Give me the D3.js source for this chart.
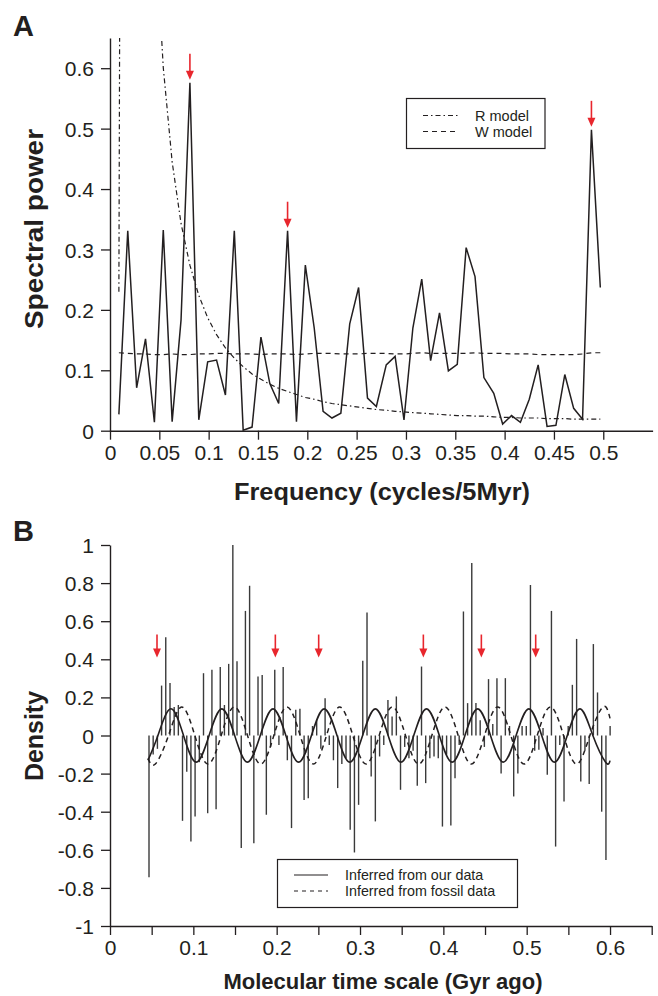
<!DOCTYPE html>
<html><head><meta charset="utf-8">
<script src="https://cdn.jsdelivr.net/npm/d3@7"></script>
<style>
body{margin:0;background:#fff;}
text{font-family:"Liberation Sans",Arial,Helvetica,sans-serif;fill:#231f20;}
</style>
</head><body>
<svg id="chart" width="658" height="996"></svg>
<script>
// ---------- Panel A data ----------
const freqA = [0.009,0.018,0.027,0.036,0.045,0.054,0.063,0.072,0.081,0.090,0.099,0.108,0.117,0.126,0.135,0.144,0.153,0.162,0.171,0.180,0.189,0.198,0.207,0.216,0.225,0.234,0.243,0.252,0.261,0.270,0.280,0.289,0.298,0.307,0.316,0.325,0.334,0.343,0.352,0.361,0.370,0.379,0.389,0.398,0.407,0.416,0.425,0.434,0.443,0.452,0.461,0.470,0.479,0.488,0.497];
const powerA = [0.027,0.331,0.071,0.152,0.014,0.332,0.015,0.183,0.576,0.018,0.114,0.117,0.059,0.331,0.001,0.006,0.155,0.078,0.045,0.331,0.015,0.274,0.170,0.032,0.021,0.029,0.177,0.237,0.054,0.040,0.109,0.123,0.018,0.170,0.251,0.116,0.195,0.099,0.110,0.303,0.255,0.088,0.062,0.011,0.025,0.014,0.052,0.109,0.007,0.009,0.093,0.037,0.019,0.498,0.237];
const rModelA = [0.23,5.32,2.37,1.339,0.861,0.601,0.445,0.343,0.274,0.224,0.187,0.159,0.137,0.120,0.106,0.094,0.085,0.077,0.070,0.065,0.060,0.055,0.052,0.048,0.045,0.043,0.041,0.039,0.037,0.035,0.034,0.032,0.031,0.030,0.029,0.028,0.027,0.026,0.025,0.025,0.024,0.024,0.023,0.022,0.022,0.021,0.021,0.021,0.020,0.020,0.020,0.019,0.019,0.019,0.019];
const wModelA = [0.129,0.128,0.127,0.127,0.126,0.126,0.127,0.126,0.126,0.127,0.127,0.128,0.128,0.127,0.127,0.127,0.126,0.127,0.127,0.127,0.126,0.127,0.128,0.128,0.128,0.127,0.127,0.127,0.128,0.128,0.128,0.127,0.127,0.128,0.129,0.128,0.128,0.128,0.128,0.128,0.129,0.128,0.128,0.128,0.127,0.127,0.127,0.126,0.126,0.126,0.126,0.126,0.127,0.129,0.129];
const arrowFreqA = [0.081,0.180,0.488];
const xTicksA = [0,0.05,0.1,0.15,0.2,0.25,0.3,0.35,0.4,0.45,0.5];
const yTicksA = [0,0.1,0.2,0.3,0.4,0.5,0.6];
const legendA = ["R model","W model"];

// ---------- Panel B data ----------
const timeB = [0.0468,0.0518,0.0569,0.0619,0.0669,0.0720,0.0770,0.0820,0.0870,0.0921,0.0971,0.1021,0.1072,0.1122,0.1172,0.1223,0.1273,0.1323,0.1373,0.1424,0.1474,0.1524,0.1575,0.1625,0.1675,0.1726,0.1776,0.1826,0.1876,0.1927,0.1977,0.2027,0.2078,0.2128,0.2178,0.2229,0.2279,0.2329,0.2379,0.2430,0.2480,0.2530,0.2581,0.2631,0.2681,0.2732,0.2782,0.2832,0.2882,0.2933,0.2983,0.3033,0.3084,0.3134,0.3184,0.3235,0.3285,0.3335,0.3385,0.3436,0.3486,0.3536,0.3587,0.3637,0.3687,0.3738,0.3788,0.3838,0.3888,0.3939,0.3989,0.4039,0.4090,0.4140,0.4190,0.4241,0.4291,0.4341,0.4391,0.4442,0.4492,0.4542,0.4593,0.4643,0.4693,0.4744,0.4794,0.4844,0.4894,0.4945,0.4995,0.5045,0.5096,0.5146,0.5196,0.5247,0.5297,0.5347,0.5397,0.5448,0.5498,0.5548,0.5599,0.5649,0.5699,0.5750,0.5800,0.5850,0.5900,0.5951,0.6001];
const densityB = [-0.744,-0.10,-0.07,0.262,0.516,0.275,0.15,0.16,-0.448,-0.19,-0.556,-0.425,-0.14,0.327,-0.408,0.345,-0.387,0.359,0.16,0.376,1.0,0.39,-0.59,0.654,0.786,-0.565,0.31,0.318,-0.416,-0.06,0.345,-0.05,0.359,-0.13,-0.486,0.135,0.14,-0.338,-0.329,0.05,0.08,-0.07,0.196,-0.05,-0.13,-0.276,-0.15,-0.12,-0.495,-0.614,-0.364,0.392,0.646,-0.215,-0.451,-0.11,-0.05,0.187,0.10,0.205,-0.285,-0.06,-0.12,-0.08,-0.264,0.362,-0.25,-0.12,-0.11,-0.12,-0.478,-0.10,-0.472,-0.224,-0.05,0.651,0.17,0.905,0.17,0.08,-0.06,0.296,0.06,0.301,-0.2,0.301,0.05,-0.32,-0.2,0.05,0.05,0.79,-0.08,-0.075,0.04,-0.206,0.654,-0.583,-0.05,-0.346,0.05,0.266,0.507,-0.241,-0.08,-0.254,0.48,0.226,-0.4,-0.653,0.05];
const ourFitT = [0.0456,0.0575,0.0728,0.0882,0.1035,0.1189,0.1342,0.1496,0.1649,0.1803,0.1956,0.2110,0.2263,0.2417,0.2570,0.2724,0.2877,0.3031,0.3184,0.3338,0.3491,0.3645,0.3798,0.3952,0.4105,0.4259,0.4412,0.4566,0.4719,0.4873,0.5026,0.5180,0.5333,0.5487,0.5640,0.5794,0.5947,0.6000];
const ourFitV = [-0.13,0,0.14,0,-0.14,0,0.14,0,-0.14,0,0.14,0,-0.14,0,0.14,0,-0.14,0,0.14,0,-0.14,0,0.14,0,-0.14,0,0.14,0,-0.14,0,0.14,0,-0.14,0,0.14,0,-0.14,-0.132];
const fossilFitT = [0.0456,0.0544,0.0702,0.0860,0.1018,0.1176,0.1334,0.1492,0.1650,0.1808,0.1966,0.2124,0.2282,0.2440,0.2598,0.2756,0.2914,0.3072,0.3230,0.3388,0.3546,0.3704,0.3862,0.4020,0.4178,0.4336,0.4494,0.4652,0.4810,0.4968,0.5126,0.5284,0.5442,0.5600,0.5758,0.5916,0.6000];
const fossilFitV = [-0.12,-0.15,0,0.15,0,-0.15,0,0.15,0,-0.15,0,0.15,0,-0.15,0,0.15,0,-0.15,0,0.15,0,-0.15,0,0.15,0,-0.15,0,0.15,0,-0.15,0,0.15,0,-0.15,0,0.15,0.09];
const arrowTimeB = [0.0564,0.1984,0.2504,0.376,0.4456,0.5108];
const arrowDensB = [0.53,0.41]; // arrow top, arrow tip
const xTicksB = [0,0.05,0.1,0.15,0.2,0.25,0.3,0.35,0.4,0.45,0.5,0.55,0.6,0.65];
const yTicksB = [-1,-0.8,-0.6,-0.4,-0.2,0,0.2,0.4,0.6,0.8,1];
const legendB = ["Inferred from our data","Inferred from fossil data"];

// ---------- drawing ----------
const svg = d3.select("#chart");
const INK = "#231f20", RED = "#e8262d";

function fmt(d){ return String(+d.toFixed(2)); }

function arrow(g, x, yTop, yTip){
  g.append("line").attr("x1",x).attr("x2",x).attr("y1",yTop).attr("y2",yTip-8)
    .attr("stroke",RED).attr("stroke-width",1.6);
  g.append("path").attr("d",`M${x-4},${yTip-9}L${x+4},${yTip-9}L${x},${yTip}Z`).attr("fill",RED);
}

function styleAxis(g){
  g.selectAll("path.domain").attr("stroke",INK).attr("stroke-width",1.4);
  g.selectAll(".tick line").attr("stroke",INK).attr("stroke-width",1.3);
  g.selectAll(".tick text").style("font-family",'"Liberation Sans",Arial,sans-serif')
    .style("font-size","21px").attr("fill",INK);
}

// ===== Panel A =====
const xA = d3.scaleLinear().domain([0,0.55]).range([110,652.6]);
const yA = d3.scaleLinear().domain([0,0.65]).range([430.7,38]);

svg.append("defs").append("clipPath").attr("id","clipA")
  .append("rect").attr("x",108).attr("y",38).attr("width",548).attr("height",395);

const gxA = svg.append("g").attr("transform",`translate(0,${yA(0)})`)
  .call(d3.axisBottom(xA).tickValues(xTicksA).tickSize(9).tickSizeOuter(0).tickPadding(5).tickFormat(fmt));
styleAxis(gxA);
const gyA = svg.append("g").attr("transform",`translate(${xA(0)},0)`)
  .call(d3.axisLeft(yA).tickValues(yTicksA).tickSize(9).tickSizeOuter(0).tickPadding(7).tickFormat(fmt));
styleAxis(gyA);
gyA.selectAll(".tick text").attr("dy","0.36em");

const plotA = svg.append("g").attr("clip-path","url(#clipA)");
const idxA = d3.range(freqA.length);
plotA.append("path").datum(idxA)
  .attr("d", d3.line().x(i=>xA(freqA[i])).y(i=>yA(rModelA[i])))
  .attr("fill","none").attr("stroke",INK).attr("stroke-width",1.2).attr("stroke-dasharray","5,3,1.5,3");
plotA.append("path").datum(idxA)
  .attr("d", d3.line().x(i=>xA(freqA[i])).y(i=>yA(wModelA[i])))
  .attr("fill","none").attr("stroke",INK).attr("stroke-width",1.2).attr("stroke-dasharray","5,4");
plotA.append("path").datum(idxA)
  .attr("d", d3.line().x(i=>xA(freqA[i])).y(i=>yA(powerA[i])))
  .attr("fill","none").attr("stroke",INK).attr("stroke-width",1.5).attr("stroke-linejoin","miter");

const arrA = svg.append("g");
arrowFreqA.forEach(f=>{
  const i = d3.minIndex(freqA, v=>Math.abs(v-f));
  const tip = yA(powerA[i]) - 3;
  arrow(arrA, xA(freqA[i]), tip-26, tip);
});

// legend A
const lgA = svg.append("g");
lgA.append("rect").attr("x",406.5).attr("y",98.5).attr("width",138.5).attr("height",50)
  .attr("fill","#fff").attr("stroke",INK).attr("stroke-width",1.2);
lgA.append("line").attr("x1",423).attr("x2",458).attr("y1",115.5).attr("y2",115.5)
  .attr("stroke",INK).attr("stroke-width",1.1).attr("stroke-dasharray","5,3,1.5,3");
lgA.append("line").attr("x1",423).attr("x2",458).attr("y1",131.5).attr("y2",131.5)
  .attr("stroke",INK).attr("stroke-width",1.1).attr("stroke-dasharray","5,4");
legendA.forEach((t,i)=> lgA.append("text").attr("x",475).attr("y",121+i*16)
  .style("font-size","14.5px").text(t));

// titles A
svg.append("text").attr("x",13).attr("y",36).style("font-size","29px").style("font-weight","bold").text("A");
svg.append("text").attr("transform","translate(43,229) rotate(-90)").attr("text-anchor","middle")
  .attr("textLength",200).attr("lengthAdjust","spacingAndGlyphs")
  .style("font-size","25px").style("font-weight","bold").text("Spectral power");
svg.append("text").attr("x",382).attr("y",500).attr("text-anchor","middle")
  .attr("textLength",296).attr("lengthAdjust","spacingAndGlyphs")
  .style("font-size","24px").style("font-weight","bold").text("Frequency (cycles/5Myr)");

// ===== Panel B =====
const xB = d3.scaleLinear().domain([0,0.65]).range([110,651.7]);
const yB = d3.scaleLinear().domain([-1,1]).range([926,545]);

const gxB = svg.append("g").attr("transform",`translate(0,${yB(-1)})`)
  .call(d3.axisBottom(xB).tickValues(xTicksB).tickSize(9).tickSizeOuter(0).tickPadding(5)
    .tickFormat(d=> Math.round(d*100)%10===0 ? fmt(d) : ""));
styleAxis(gxB);
const gyB = svg.append("g").attr("transform",`translate(${xB(0)},0)`)
  .call(d3.axisLeft(yB).tickValues(yTicksB).tickSize(9).tickSizeOuter(0).tickPadding(7).tickFormat(fmt));
styleAxis(gyB);
gyB.selectAll(".tick text").attr("dy","0.36em");

const plotB = svg.append("g");
plotB.selectAll("line.spike").data(d3.range(timeB.length)).join("line").attr("class","spike")
  .attr("x1",i=>xB(timeB[i])).attr("x2",i=>xB(timeB[i]))
  .attr("y1",yB(0)).attr("y2",i=>yB(densityB[i]))
  .attr("stroke","#3a3a3a").attr("stroke-width",1.4);

plotB.append("path").datum(d3.range(fossilFitT.length))
  .attr("d", d3.line().curve(d3.curveNatural).x(i=>xB(fossilFitT[i])).y(i=>yB(fossilFitV[i])))
  .attr("fill","none").attr("stroke",INK).attr("stroke-width",1.5).attr("stroke-dasharray","5,4");
plotB.append("path").datum(d3.range(ourFitT.length))
  .attr("d", d3.line().curve(d3.curveNatural).x(i=>xB(ourFitT[i])).y(i=>yB(ourFitV[i])))
  .attr("fill","none").attr("stroke",INK).attr("stroke-width",1.6);

const arrB = svg.append("g");
arrowTimeB.forEach(t=> arrow(arrB, xB(t), yB(arrowDensB[0]), yB(arrowDensB[1])));

// legend B
const lgB = svg.append("g");
lgB.append("rect").attr("x",277.5).attr("y",859.5).attr("width",240).attr("height",48)
  .attr("fill","#fff").attr("stroke",INK).attr("stroke-width",1.2);
lgB.append("line").attr("x1",294).attr("x2",328).attr("y1",875).attr("y2",875)
  .attr("stroke",INK).attr("stroke-width",1.2);
lgB.append("line").attr("x1",294).attr("x2",328).attr("y1",891).attr("y2",891)
  .attr("stroke",INK).attr("stroke-width",1.2).attr("stroke-dasharray","4,4");
legendB.forEach((t,i)=> lgB.append("text").attr("x",345).attr("y",880+i*16)
  .style("font-size","14.3px").text(t));

// titles B
svg.append("text").attr("x",13).attr("y",541).style("font-size","29px").style("font-weight","bold").text("B");
svg.append("text").attr("transform","translate(43,736) rotate(-90)").attr("text-anchor","middle")
  .attr("textLength",90).attr("lengthAdjust","spacingAndGlyphs")
  .style("font-size","25px").style("font-weight","bold").text("Density");
svg.append("text").attr("x",383).attr("y",989).attr("text-anchor","middle")
  .style("font-size","22px").style("font-weight","bold").text("Molecular time scale (Gyr ago)");
</script>
</body></html>
